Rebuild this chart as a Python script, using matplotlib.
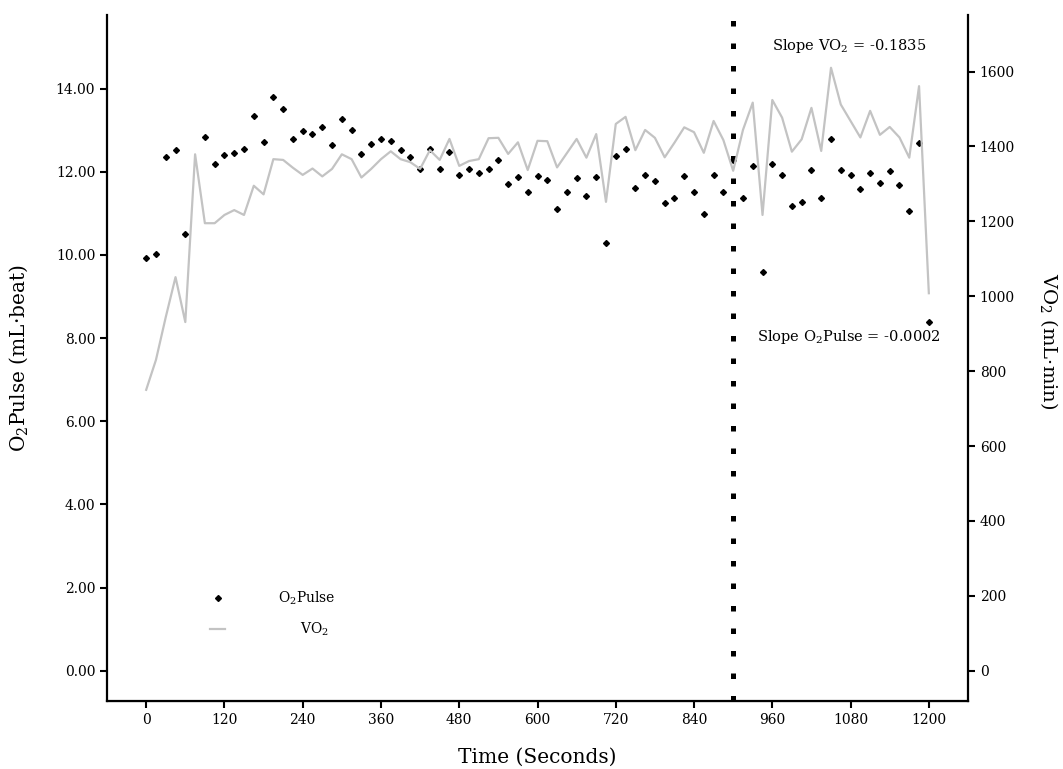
# -*- coding: utf-8 -*-

import matplotlib
matplotlib.use("Agg")
import matplotlib.pyplot as plt
from matplotlib.lines import Line2D
import numpy as np

# --- DADOS ---
# tempo de cada amostra (a cada 15 s)
tempo = list(range(0, 1201, 15))

# O2 Pulse (mL/batimento) - o ponto de 75 s nao aparece no grafico
o2_pulse = [
    9.92, 10.02, 12.36, 12.52, 10.50, np.nan, 12.84, 12.19, 12.41, 12.44,
    12.55, 13.35, 12.72, 13.80, 13.50, 12.79, 12.98, 12.90, 13.08, 12.64,
    13.26, 13.00, 12.42, 12.66, 12.78, 12.73, 12.53, 12.35, 12.07, 12.54,
    12.07, 12.47, 11.93, 12.06, 11.98, 12.06, 12.28, 11.70, 11.87, 11.51,
    11.89, 11.79, 11.10, 11.52, 11.85, 11.42, 11.87, 10.28, 12.39, 12.55,
    11.60, 11.93, 11.78, 11.24, 11.38, 11.90, 11.51, 10.98, 11.93, 11.51,
    12.28, 11.38, 12.14, 9.60, 12.19, 11.91, 11.18, 11.27, 12.03, 11.38,
    12.79, 12.03, 11.93, 11.59, 11.97, 11.73, 12.02, 11.68, 11.06, 12.69,
    8.39,
]

# VO2 (mL/min)
vo2 = [
    750, 830, 944, 1051, 931, 1379, 1195, 1195, 1217, 1230,
    1217, 1295, 1272, 1366, 1364, 1343, 1324, 1341, 1320, 1340,
    1379, 1366, 1317, 1340, 1366, 1387, 1366, 1358, 1340, 1390,
    1364, 1420, 1348, 1361, 1366, 1422, 1423, 1380, 1411, 1337,
    1415, 1414, 1344, 1382, 1420, 1370, 1433, 1252, 1460, 1479,
    1390, 1444, 1423, 1371, 1410, 1451, 1438, 1383, 1468, 1417,
    1335, 1444, 1517, 1217, 1524, 1477, 1386, 1419, 1503, 1388,
    1610, 1512, 1468, 1424, 1495, 1431, 1452, 1424, 1370, 1561,
    1008,
]

tempo_corte = 900
slope_vo2 = -0.1835
slope_o2 = -0.0002
x_ticks = list(range(0, 1201, 120))
y_ticks_esq = [0, 2, 4, 6, 8, 10, 12, 14]
y_ticks_dir = [0, 200, 400, 600, 800, 1000, 1200, 1400, 1600]

# --- ESTILO ---
plt.rcParams['font.family'] = 'DejaVu Serif'
plt.rcParams['mathtext.fontset'] = 'dejavuserif'

fig = plt.figure(figsize=(10.63, 7.69), dpi=100)
ax = fig.add_axes([0.1007, 0.0884, 0.8099, 0.8921])
ax2 = ax.twinx()

cor_vo2 = '#c3c3c3'

# pontos do O2 pulse
ax.plot(tempo, o2_pulse, linestyle='none', marker='D', markersize=3.0,
        color='black', label='O$_2$Pulse')

# linha do VO2
ax2.plot(tempo, vo2, color=cor_vo2, linewidth=1.6, label='VO$_2$')

# linha vertical pontilhada
ax.axvline(tempo_corte, color='black', linewidth=3.6, linestyle=(0, (1.1, 3.4)))

ax.set_xlim(-60, 1260)
ax.set_ylim(-0.73, 15.77)
ax2.set_ylim(-81, 1751)

ax.set_xticks(x_ticks)
ax.set_yticks(y_ticks_esq)
ax.set_yticklabels([f'{v:.2f}' for v in y_ticks_esq])
ax2.set_yticks(y_ticks_dir)

for a in (ax, ax2):
    a.spines['top'].set_visible(False)
    a.tick_params(labelsize=10, width=1.5, length=5)
ax.spines['right'].set_visible(False)
ax2.spines['left'].set_visible(False)
ax.spines['left'].set_linewidth(1.6)
ax.spines['bottom'].set_linewidth(1.6)
ax2.spines['right'].set_linewidth(1.6)

ax.set_xlabel('Time (Seconds)', fontsize=14.5, labelpad=15)
ax.set_ylabel('O$_2$Pulse (mL·beat)', fontsize=14.5)
ax.yaxis.set_label_coords(-0.089, 0.5)
ax2.set_ylabel('VO$_2$ (mL·min)', fontsize=14, rotation=-90)
ax2.yaxis.set_label_coords(1.107, 0.525)

# textos das inclinacoes
ax.text(1078, 15.02, f'Slope VO$_2$ = {slope_vo2}', ha='center', va='center', fontsize=10.5)
ax.text(1078, 8.02, f'Slope O$_2$Pulse = {slope_o2:.4f}', ha='center', va='center', fontsize=10.5)

# legenda
handles = [
    Line2D([], [], linestyle='none', marker='D', markersize=3.0, color='black'),
    Line2D([], [], color=cor_vo2, linewidth=1.6),
]
ax2.legend(handles, ['O$_2$Pulse', '     VO$_2$'], loc='upper left',
           bbox_to_anchor=(0.105, 0.18), frameon=False, fontsize=10,
           handlelength=1.1, handletextpad=3.8, labelspacing=0.95)

plt.savefig('out.png', dpi=100)
plt.close()
